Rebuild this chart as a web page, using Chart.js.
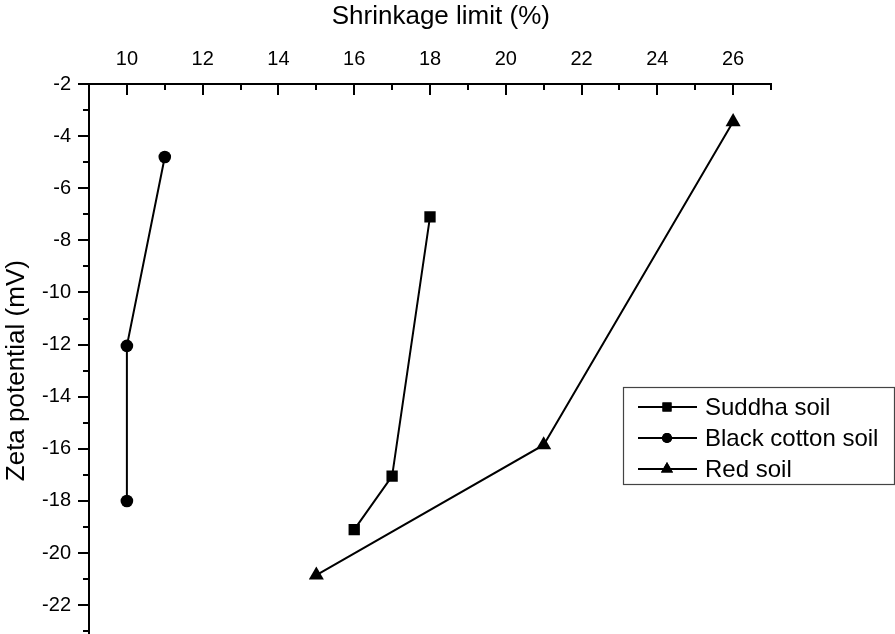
<!DOCTYPE html>
<html>
<head>
<meta charset="utf-8">
<script src="https://cdn.jsdelivr.net/npm/chart.js@4/dist/chart.umd.min.js"></script>
<style>
  html, body { margin: 0; padding: 0; background: #fff; overflow: hidden; }
  #wrap { position: relative; width: 895px; height: 666px; }
</style>
</head>
<body>
<div id="wrap"><canvas id="canvas"></canvas></div>
<script>
// data
var seriesNames = ['Suddha soil', 'Black cotton soil', 'Red soil'];
var suddhaX = [18, 17, 16];
var suddhaY = [-7.1, -17.05, -19.1];
var blackX = [11, 10, 10];
var blackY = [-4.8, -12.05, -18];
var redX = [26, 21, 15];
var redY = [-3.45, -15.85, -20.85];

var xTicks = [10, 12, 14, 16, 18, 20, 22, 24, 26];
var yTicks = [-2, -4, -6, -8, -10, -12, -14, -16, -18, -20, -22, -24];

var FONT = "'Liberation Sans', Arial, sans-serif";

function pts(xs, ys) {
  return xs.map(function(x, i) { return {x: x, y: ys[i]}; });
}

function ds(label, xs, ys, style, r) {
  return {
    label: label,
    data: pts(xs, ys),
    showLine: true,
    borderColor: '#000',
    backgroundColor: '#000',
    borderWidth: 2,
    pointStyle: style,
    pointRadius: r,
    pointHoverRadius: r,
    pointBorderWidth: 0
  };
}

// tick marks: x ticks point into the plot, y ticks point outwards
var tickPlugin = {
  id: 'ticks',
  afterDraw: function(chart) {
    var ctx = chart.ctx;
    var xs = chart.scales.x, ys = chart.scales.y;
    var top = chart.chartArea.top, left = chart.chartArea.left;
    ctx.save();
    ctx.strokeStyle = '#000';
    ctx.lineWidth = 2;
    ctx.beginPath();
    for (var v = 9; v <= 27; v++) {
      var px = Math.round(xs.getPixelForValue(v));
      ctx.moveTo(px, top);
      ctx.lineTo(px, top + (v % 2 === 0 ? 11 : 6));
    }
    for (var w = -2; w >= -24; w--) {
      var py = Math.round(ys.getPixelForValue(w));
      ctx.moveTo(left, py);
      ctx.lineTo(left - (w % 2 === 0 ? 11 : 6), py);
    }
    ctx.stroke();
    ctx.restore();
  }
};

// legend box inside the plot, right side
var legendPlugin = {
  id: 'boxLegend',
  afterDraw: function(chart) {
    var ctx = chart.ctx;
    var bx = 623, by = 387, bw = 271, bh = 97;
    ctx.save();
    ctx.fillStyle = '#fff';
    ctx.fillRect(bx, by, bw, bh);
    ctx.strokeStyle = '#444';
    ctx.lineWidth = 1.2;
    ctx.strokeRect(bx + 0.5, by + 0.5, bw, bh);
    ctx.font = '24px ' + FONT;
    ctx.textBaseline = 'middle';
    chart.data.datasets.forEach(function(d, i) {
      var cy = by + 20 + i * 31;
      ctx.strokeStyle = '#000';
      ctx.lineWidth = 2;
      ctx.beginPath();
      ctx.moveTo(638, cy);
      ctx.lineTo(697, cy);
      ctx.stroke();
      ctx.fillStyle = '#000';
      Chart.helpers.drawPoint(ctx, {pointStyle: d.pointStyle, radius: d.pointRadius * 0.8, borderWidth: 0}, 667, cy);
      ctx.fill();
      ctx.fillText(d.label, 705, cy + 1);
    });
    ctx.restore();
  }
};

var config = {
  type: 'scatter',
  data: {
    datasets: [
      ds(seriesNames[0], suddhaX, suddhaY, 'rect', 8),
      ds(seriesNames[1], blackX, blackY, 'circle', 6.3),
      ds(seriesNames[2], redX, redY, 'triangle', 8.7)
    ]
  },
  options: {
    responsive: true,
    maintainAspectRatio: false,
    animation: false,
    // canvas is taller than the window: the plot runs on past the bottom edge like the cropped original
    layout: { padding: { left: 0, top: 0, right: 124, bottom: 2 } },
    plugins: {
      legend: { display: false },
      tooltip: { enabled: false }
    },
    scales: {
      x: {
        type: 'linear',
        position: 'top',
        min: 9,
        max: 27,
        afterBuildTicks: function(scale) {
          scale.ticks = xTicks.map(function(v) { return {value: v}; });
        },
        afterFit: function(scale) { scale.height = 84; },
        grid: { display: true, drawOnChartArea: false, drawTicks: false },
        border: { display: true, color: '#000', width: 2 },
        ticks: {
          autoSkip: false,
          maxRotation: 0,
          padding: 13,
          color: '#000',
          font: { family: FONT, size: 20 }
        },
        title: {
          display: true,
          text: '\u00a0\u00a0\u00a0Shrinkage limit (%)',
          color: '#000',
          font: { family: FONT, size: 26 },
          padding: { top: 1, bottom: 0 }
        }
      },
      y: {
        type: 'linear',
        position: 'left',
        min: -24,
        max: -2,
        afterBuildTicks: function(scale) {
          scale.ticks = yTicks.map(function(v) { return {value: v}; });
        },
        afterFit: function(scale) {
          scale.width = 89;
          scale.paddingTop = 0;
          scale.paddingBottom = 0;
        },
        grid: { display: true, drawOnChartArea: false, drawTicks: false },
        border: { display: true, color: '#000', width: 2 },
        ticks: {
          autoSkip: false,
          padding: 18,
          color: '#000',
          font: { family: FONT, size: 20 }
        },
        title: {
          display: true,
          text: 'Zeta potential (mV)',
          color: '#000',
          font: { family: FONT, size: 26 },
          padding: { top: 1, bottom: 0 }
        }
      }
    }
  },
  plugins: [tickPlugin, legendPlugin]
};

window.onload = function() {
  window.myChart = new Chart(document.getElementById('canvas'), config);
};
</script>
</body>
</html>
